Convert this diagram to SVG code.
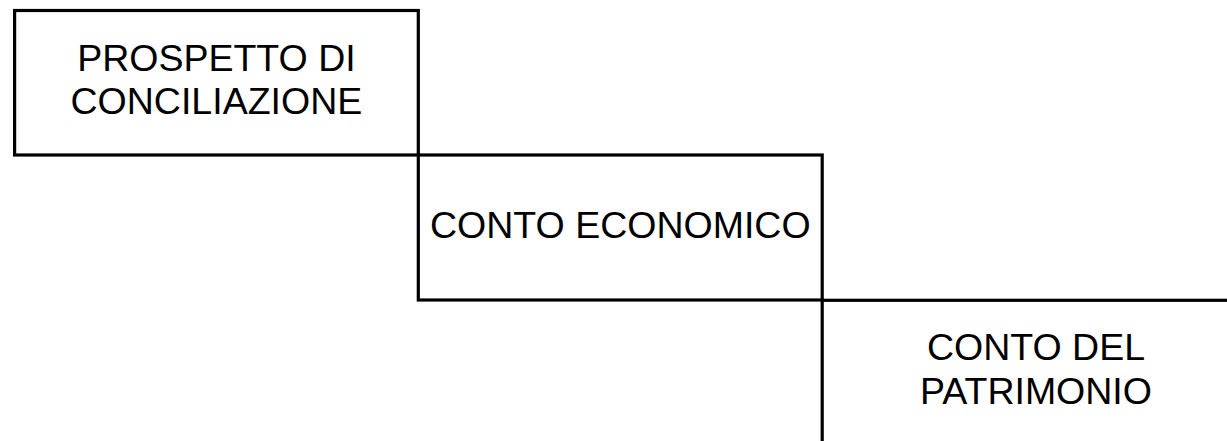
<svg xmlns="http://www.w3.org/2000/svg" width="1227" height="441" viewBox="0 0 1227 441">
<style>
.box{fill:#fff;stroke:#000;stroke-width:3.2}
.t{font-family:"Liberation Sans",Arial,sans-serif;font-size:37.5px;fill:#000;text-anchor:middle}
</style>
<rect width="1227" height="441" fill="#fff"/>
<g id="node-prospetto">
<rect class="box" x="14.6" y="10.5" width="403.7" height="144.5"/>
<text class="t" x="216.4" y="71">PROSPETTO DI</text>
<text class="t" x="216.4" y="114">CONCILIAZIONE</text>
</g>
<g id="node-conto-economico">
<rect class="box" x="418.3" y="155" width="403.9" height="145"/>
<text class="t" x="620.3" y="238.3">CONTO ECONOMICO</text>
</g>
<g id="node-conto-patrimonio">
<rect class="box" x="822.2" y="300.3" width="420" height="160"/>
<text class="t" x="1036" y="360">CONTO DEL</text>
<text class="t" x="1036" y="404">PATRIMONIO</text>
</g>
<g id="connectors"></g>
</svg>
